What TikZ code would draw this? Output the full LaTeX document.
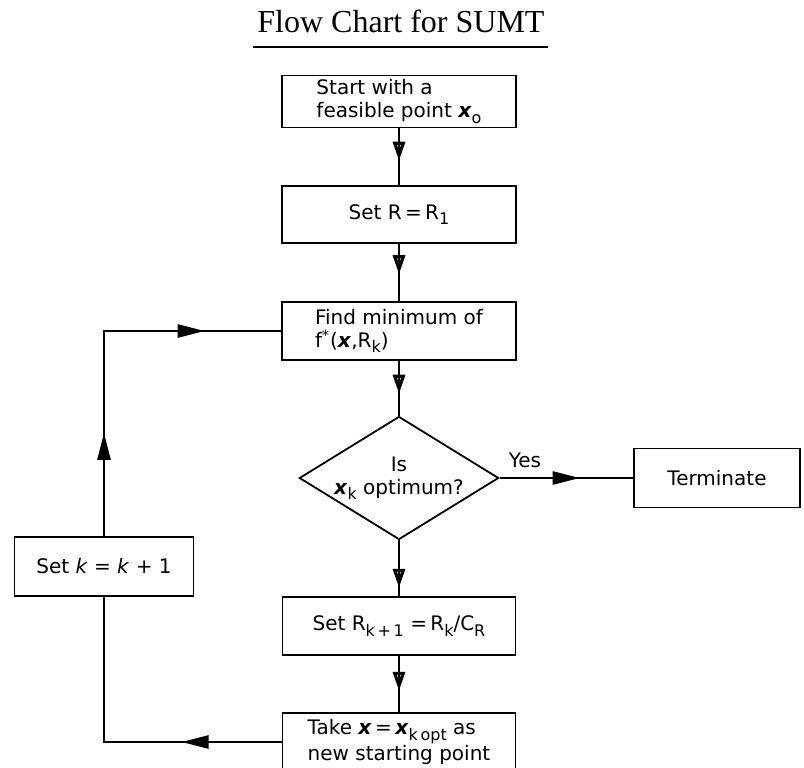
\documentclass[tikz,border=0pt]{standalone}
\usepackage{fontspec}
\setmainfont{DejaVu Sans}
\newfontfamily\titlefont{Liberation Serif}
\usetikzlibrary{shapes.geometric,arrows.meta,decorations.markings}
\newcommand{\vx}{\textbf{\textit{x}}}
\newcommand{\lowidx}[1]{\raisebox{-0.5ex}{\footnotesize #1}}
\tikzset{
  box/.style={draw,line width=0.9pt,inner sep=2pt,align=left,font=\fontsize{10}{11.5}\selectfont},
  flow/.style={line width=1.3pt},
  downtip/.style={postaction={decorate,decoration={markings,mark=at position #1 with {\arrow{Triangle[open,width=6pt,length=9.5pt,line width=1.6pt]}}}}},
  sidetip/.style={postaction={decorate,decoration={markings,mark=at position #1 with {\arrow{Triangle[width=6.5pt,length=13.5pt]}}}}}
}
\begin{document}
\begin{tikzpicture}[x=0.5pt,y=-0.5pt]
        \useasboundingbox (0,0) rectangle (804,767);
        \clip (0,0) rectangle (804,767);
        %% title
        \node[font=\titlefont\fontsize{16}{19}\selectfont,anchor=base] (title) at (401,32) {Flow Chart for SUMT};
        \draw[line width=0.8pt] (253,47) -- (548,47);
        %% boxes
        \node[box,minimum width=117pt,minimum height=23.5pt] (start) at (399,101.5) {Start with a\\ feasible point \vx\lowidx{o}};
        \node[box,minimum width=117pt,minimum height=28.5pt] (setR) at (399,214.5) {Set R\,=\,R\lowidx{1}};
        \node[box,minimum width=117pt,minimum height=29pt] (findmin) at (399,331) {Find minimum of\\ f\textsuperscript{*}(\vx,R\lowidx{k})};
        \node[draw,line width=0.9pt,shape=diamond,aspect=1.62,minimum width=97pt,minimum height=60pt,inner sep=0pt,align=center,font=\fontsize{10}{11.5}\selectfont] (opt) at (399,478) {Is\\ \vx\lowidx{k} optimum?};
        \node[box,minimum width=83pt,minimum height=29.5pt] (term) at (717,478) {Terminate};
        \node[box,minimum width=89.5pt,minimum height=29.5pt] (setk) at (104,566.5) {Set \textit{k} = \textit{k} + 1};
        \node[box,minimum width=116.5pt,minimum height=29pt] (setRk) at (399,626) {Set R\lowidx{k\,+\,1} =\,R\lowidx{k}/C\lowidx{R}};
        \node[box,minimum width=116.5pt,minimum height=29pt] (take) at (399,742) {Take \vx\,=\,\vx\lowidx{k\,opt} as\\ new starting point};
        %% main line
        \draw[flow,downtip=0.57] (start) -- (setR);
        \draw[flow,downtip=0.53] (setR) -- (findmin);
        \draw[flow,downtip=0.6] (findmin) -- (opt);
        \draw[flow,downtip=0.85] (opt) -- (setRk);
        \draw[flow,downtip=0.62] (setRk) -- (take);
        \draw[flow,sidetip=0.6] (opt.east) -- (term.west) node[pos=0.19,above=1pt,font=\fontsize{10}{12}\selectfont] {Yes};
        %% loop back
        \draw[flow,sidetip=0.31] (take.west) -| (setk.south);
        \draw[flow,sidetip=0.27,sidetip=0.8] (setk.north) |- (findmin.west);
    \end{tikzpicture}
\end{document}
